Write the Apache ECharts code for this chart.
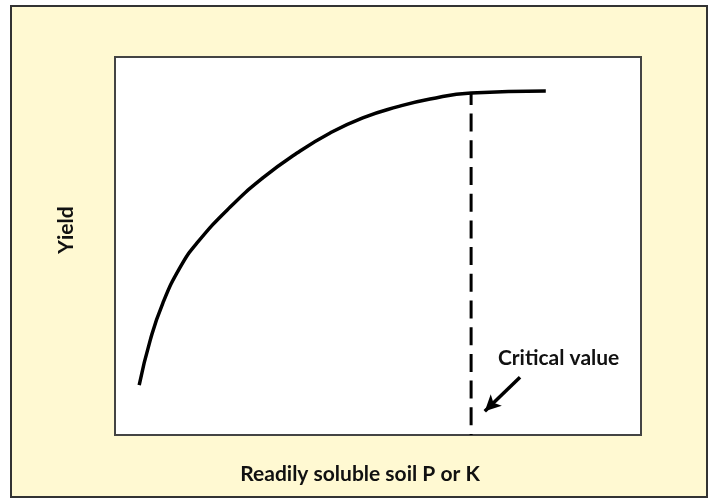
<!DOCTYPE html>
<html>
<head>
<meta charset="utf-8">
<script src="https://cdn.jsdelivr.net/npm/echarts@6/dist/echarts.min.js"></script>
<style>
  html, body { margin: 0; padding: 0; background: #fff; }
  #chart { width: 711px; height: 498px; }
</style>
</head>
<body>
<div id="chart"></div>
<script>
// response curve, x = soil P/K, y = yield (0-100 scale)
const curveX = [4.6, 6.7, 9.1, 12.4, 15.6, 21.9, 28.1, 34.6, 40.9, 47.1, 53.6, 59.9, 67.7, 81.9]
const curveY = [13.2, 25.1, 34.9, 44.4, 50.8, 60.3, 68.0, 74.6, 79.9, 83.9, 86.8, 88.9, 90.5, 91.0]

const criticalX = 67.7
const criticalTop = 90.5

// arrow pointing at the dashed line
const arrowFrom = [77.0, 15.3]
const arrowTo = [70.3, 6.3]
const labelAt = [72.8, 20.3]

const xTitle = 'Readily soluble soil P or K'
const yTitle = 'Yield'
const noteText = 'Critical value'

const font = 'Lato, "Noto Sans", sans-serif'
const frame = {
  type: 'rect',
  z: -10,
  shape: { x: 11, y: 6, width: 696, height: 491 },
  style: { fill: '#FFF9D2', stroke: '#333', lineWidth: 2 }
}

const chart = echarts.init(document.getElementById('chart'))

chart.setOption({
  animation: false,
  backgroundColor: '#fff',
  grid: {
    left: 115,
    top: 57,
    width: 526,
    height: 378,
    show: true,
    backgroundColor: '#fff',
    borderColor: '#444',
    borderWidth: 2,
    z: 1
  },
  graphic: [frame],
  xAxis: {
    type: 'value',
    min: 0,
    max: 100,
    axisLine: { show: false },
    axisTick: { show: false },
    axisLabel: { show: false },
    splitLine: { show: false },
    name: xTitle,
    nameLocation: 'middle',
    nameGap: 29,
    nameTextStyle: { fontFamily: font, fontWeight: 'bold', fontSize: 21, color: '#111', padding: [0, 36, 0, 0] }
  },
  yAxis: {
    type: 'value',
    min: 0,
    max: 100,
    axisLine: { show: false },
    axisTick: { show: false },
    axisLabel: { show: false },
    splitLine: { show: false },
    name: yTitle,
    nameLocation: 'middle',
    nameGap: 38,
    nameTextStyle: { fontFamily: font, fontWeight: 'bold', fontSize: 21, color: '#111', padding: [0, 0, 0, 32] }
  },
  series: [
    {
      name: 'curve',
      type: 'line',
      smooth: true,
      showSymbol: false,
      data: curveX.map((x, i) => [x, curveY[i]]),
      lineStyle: { color: '#000', width: 3.5 },
      z: 5
    },
    {
      name: 'critical',
      type: 'line',
      showSymbol: false,
      data: [[criticalX, criticalTop], [criticalX, 0]],
      lineStyle: { color: '#000', width: 3, type: [18, 8.7], dashOffset: 6 },
      z: 4,
      markLine: {
        silent: true,
        symbol: ['none', 'arrow'],
        symbolSize: [12, 16],
        lineStyle: { color: '#000', width: 3.5, type: 'solid' },
        label: { show: false },
        data: [[{ coord: arrowFrom }, { coord: arrowTo }]]
      }
    }
  ]
})

const p = chart.convertToPixel({ gridIndex: 0 }, labelAt)
chart.setOption({
  graphic: [
    frame,
    {
      type: 'text',
      z: 10,
      x: p[0],
      y: p[1],
      style: {
        text: noteText,
        font: 'bold 21px ' + font,
        fill: '#111',
        verticalAlign: 'middle'
      }
    }
  ]
})
</script>
</body>
</html>
